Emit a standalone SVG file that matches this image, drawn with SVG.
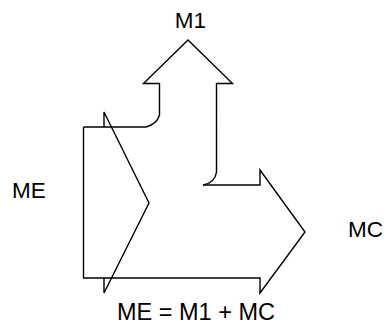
<svg xmlns="http://www.w3.org/2000/svg" width="385" height="323" viewBox="0 0 385 323">
<style>
.ln{fill:none;stroke:#000;stroke-width:1.4;stroke-linejoin:miter}
.lb{font-family:"Liberation Sans",Arial,sans-serif;font-size:22.5px;fill:#000}
</style>
<rect width="385" height="323" fill="#fff"/>
<g id="outline">
<path class="ln" d="M83.5,127 H146 Q157,124 159.5,115 V83.5 H143.5 L188,40 L232.5,83.5 H216.5 V172 Q215,183 203,185"/>
<path class="ln" d="M203,185 H260 V170 L305,232 L260,293 V278 H83.5 V127"/>
</g>
<g id="me-arrow">
<path class="ln" d="M104,127 V112 L149,203 L104,293 V278"/>
</g>
<g id="labels">
<text class="lb" x="190.5" y="27.5" text-anchor="middle">M1</text>
<text class="lb" x="12" y="197.5">ME</text>
<text class="lb" x="348" y="236.5">MC</text>
<text class="lb" x="196" y="319.5" text-anchor="middle" style="font-size:23.5px">ME = M1 + MC</text>
</g>
</svg>
